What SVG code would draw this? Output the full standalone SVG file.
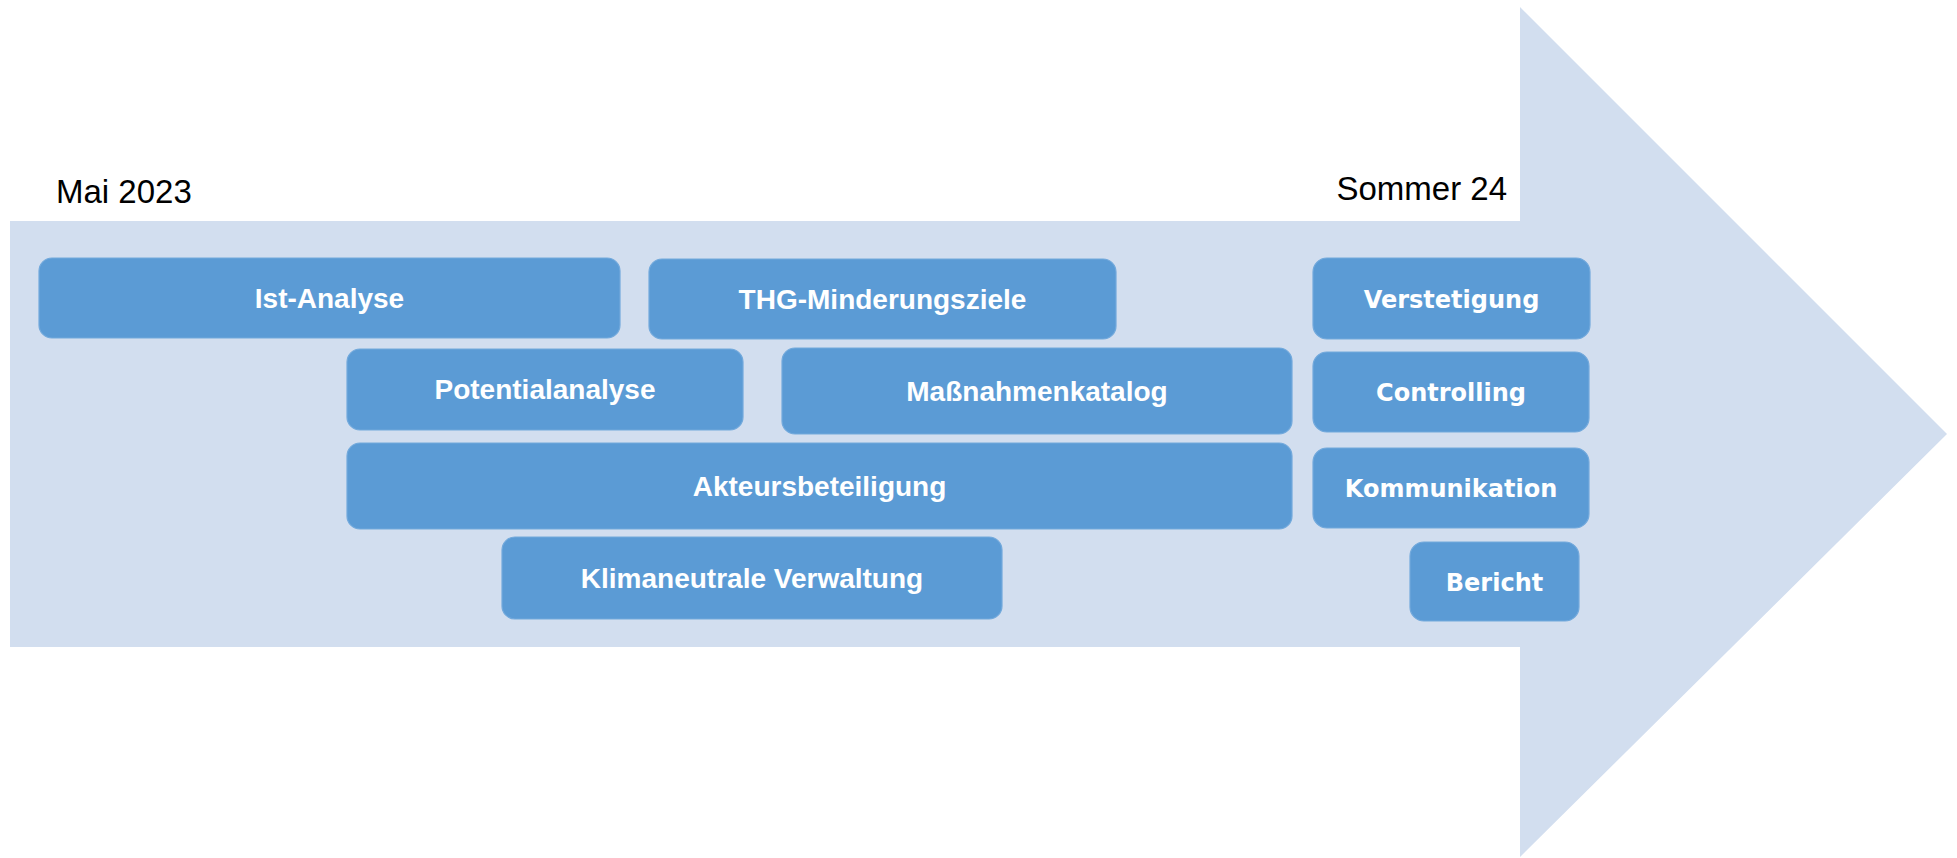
<svg xmlns="http://www.w3.org/2000/svg" width="1957" height="858" viewBox="0 0 1957 858">
<style>
.box{fill:#5B9BD5;stroke:#72A9DC;stroke-width:1.2}
.l{font-family:"Liberation Sans",Arial,sans-serif;font-weight:bold;font-size:28px;fill:#FFFFFF;text-anchor:middle}
.r{font-family:"DejaVu Sans",Verdana,sans-serif;font-weight:bold;font-size:24px;fill:#FFFFFF;text-anchor:middle}
.date{font-family:"Liberation Sans",Arial,sans-serif;font-size:33px;fill:#000000}
</style>
<rect x="0" y="0" width="1957" height="858" fill="#FFFFFF"/>
<g id="arrow">
<polygon points="10,221 1520,221 1520,7 1947,434 1520,857 1520,647 10,647" fill="#D2DEEF"/>
</g>
<g id="label-start"><text class="date" x="56" y="203">Mai 2023</text></g>
<g id="label-end"><text class="date" x="1507" y="200" text-anchor="end">Sommer 24</text></g>
<g id="ist-analyse"><rect class="box" x="39" y="258" width="581" height="80" rx="13"/><text class="l" x="329.5" y="308">Ist-Analyse</text></g>
<g id="thg"><rect class="box" x="649" y="259" width="467" height="80" rx="13"/><text class="l" x="882.5" y="309">THG-Minderungsziele</text></g>
<g id="potential"><rect class="box" x="347" y="349" width="396" height="81" rx="13"/><text class="l" x="545" y="399">Potentialanalyse</text></g>
<g id="massnahmen"><rect class="box" x="782" y="348" width="510" height="86" rx="13"/><text class="l" x="1037" y="401">Maßnahmenkatalog</text></g>
<g id="akteure"><rect class="box" x="347" y="443" width="945" height="86" rx="13"/><text class="l" x="819.5" y="496">Akteursbeteiligung</text></g>
<g id="klima"><rect class="box" x="502" y="537" width="500" height="82" rx="13"/><text class="l" x="752" y="588">Klimaneutrale Verwaltung</text></g>
<g id="verstetigung"><rect class="box" x="1313" y="258" width="277" height="81" rx="14"/><text class="r" x="1451.5" y="308">Verstetigung</text></g>
<g id="controlling"><rect class="box" x="1313" y="352" width="276" height="80" rx="14"/><text class="r" x="1451" y="401">Controlling</text></g>
<g id="kommunikation"><rect class="box" x="1313" y="448" width="276" height="80" rx="14"/><text class="r" x="1451" y="497">Kommunikation</text></g>
<g id="bericht"><rect class="box" x="1410" y="542" width="169" height="79" rx="14"/><text class="r" x="1494.5" y="591">Bericht</text></g>
<g id="connectors"></g>
</svg>
